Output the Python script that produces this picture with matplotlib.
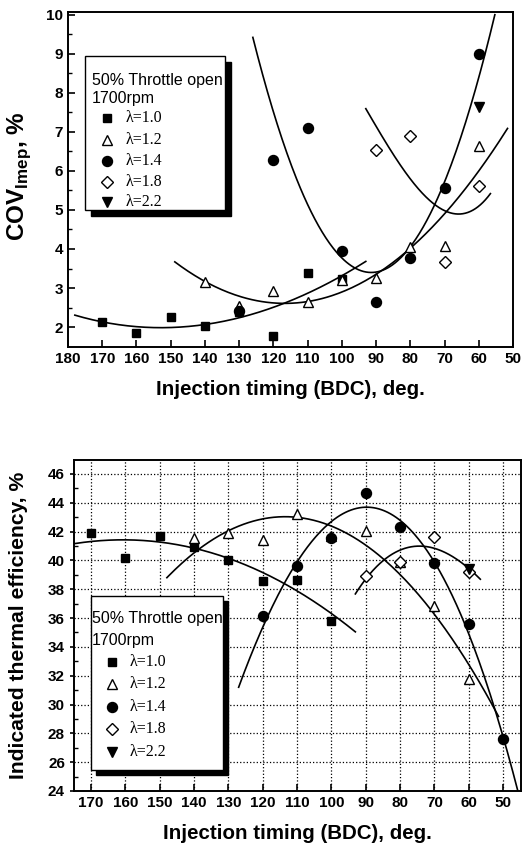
import numpy as np
import matplotlib
matplotlib.use("Agg")
import matplotlib.pyplot as plt
from matplotlib.patches import Rectangle

plt.rcParams['font.family'] = ['Liberation Sans', 'DejaVu Sans']
plt.rcParams['mathtext.fontset'] = 'custom'
plt.rcParams['mathtext.rm'] = 'Liberation Sans:bold'
plt.rcParams['mathtext.bf'] = 'Liberation Sans:bold'

# -------------------------------
# Data: COV of IMEP (top panel)
# -------------------------------
cov_x10 = [170, 160, 150, 140, 130, 120, 110, 100]
cov_y10 = [2.14, 1.86, 2.26, 2.03, 2.38, 1.77, 3.39, 3.22]
cov_x12 = [140, 130, 120, 110, 100, 90, 80, 70, 60]
cov_y12 = [3.16, 2.53, 2.93, 2.65, 3.20, 3.25, 4.04, 4.07, 6.64]
cov_x14 = [130, 120, 110, 100, 90, 80, 70, 60]
cov_y14 = [2.41, 6.28, 7.09, 3.96, 2.63, 3.78, 5.55, 8.99]
cov_x18 = [90, 80, 70, 60]
cov_y18 = [6.53, 6.89, 3.66, 5.62]
cov_x22 = [60]
cov_y22 = [7.64]

# trend curves, points
cov_fit10_x = [178.0, 170.7, 154.2, 140.6, 130.8, 120.1, 109.4, 100.6, 93.0]
cov_fit10_y = [2.31, 2.14, 1.99, 2.05, 2.22, 2.52, 2.90, 3.25, 3.70]
cov_fit12_x = [148.8, 140.6, 130.8, 119.1, 110.4, 100.6, 90.9, 81.1, 71.4, 61.7, 51.6]
cov_fit12_y = [3.67, 3.20, 2.82, 2.59, 2.65, 2.90, 3.33, 3.89, 4.74, 5.85, 7.07]
cov_fit14_x = [126.0, 118.2, 110.4, 100.6, 90.9, 81.1, 71.4, 61.7, 55.3]
cov_fit14_y = [9.42, 7.04, 5.17, 3.80, 3.46, 3.97, 5.34, 7.90, 10.0]
cov_fit18_x = [93.0, 84.0, 77.3, 67.5, 56.6]
cov_fit18_y = [7.58, 6.36, 5.42, 4.95, 5.41]

# -------------------------------
# Data: indicated thermal efficiency (bottom panel)
# -------------------------------
eff_x10 = [170, 160, 150, 140, 130, 120, 110, 100]
eff_y10 = [41.93, 40.19, 41.72, 40.96, 40.03, 38.60, 38.64, 35.80]
eff_x12 = [140, 130, 120, 110, 100, 90, 80, 70, 60]
eff_y12 = [41.54, 41.88, 41.42, 43.22, 41.70, 42.04, 39.90, 36.86, 31.75]
eff_x14 = [120, 110, 100, 90, 80, 70, 60, 50]
eff_y14 = [36.15, 39.64, 41.54, 44.66, 42.35, 39.85, 35.57, 27.61]
eff_x18 = [90, 80, 70, 60]
eff_y18 = [38.94, 39.87, 41.60, 39.22]
eff_x22 = [60]
eff_y22 = [39.38]

eff_fit10_x = [175.0, 160.0, 152.8, 139.7, 129.8, 119.8, 110.0, 99.8, 93.0]
eff_fit10_y = [41.14, 41.47, 41.35, 40.84, 40.08, 39.10, 37.95, 36.33, 35.00]
eff_fit12_x = [147.9, 139.7, 129.8, 119.8, 110.0, 99.8, 90.6, 84.8, 70.2, 60.0, 51.3]
eff_fit12_y = [38.76, 40.73, 42.00, 42.76, 42.99, 42.46, 41.30, 40.03, 36.33, 32.63, 29.28]
eff_fit14_x = [127.0, 121.7, 113.9, 110.0, 106.2, 99.8, 90.6, 79.9, 70.2, 60.0, 50.3, 45.5]
eff_fit14_y = [31.17, 34.48, 38.18, 39.91, 41.30, 42.81, 43.62, 42.58, 40.03, 35.17, 27.77, 23.95]
eff_fit18_x = [93.0, 84.8, 74.1, 65.3, 56.6]
eff_fit18_y = [37.67, 40.03, 40.96, 40.38, 38.69]

key_labels = ["λ=1.0", "λ=1.2", "λ=1.4", "λ=1.8", "λ=2.2"]
marker_styles = [
    dict(marker='s', ms=6.4, mfc='black'),
    dict(marker='^', ms=7.5, mfc='white'),
    dict(marker='o', ms=7.2, mfc='black'),
    dict(marker='D', ms=6.0, mfc='white'),
    dict(marker='v', ms=7.5, mfc='black'),
]


def smooth(xs, ys, deg=3):
    c = np.polyfit(xs, ys, deg)
    xx = np.linspace(min(xs), max(xs), 200)
    return xx, np.polyval(c, xx)


def draw_key(ax, box, shadow, head, rows):
    # box / shadow in axes fraction: (x0, y0, w, h)
    x0, y0, w, h = box
    dx, dy = shadow
    ax.add_patch(Rectangle((x0 + dx, y0 - dy), w, h, transform=ax.transAxes,
                           facecolor='black', edgecolor='black', zorder=8, clip_on=False))
    ax.add_patch(Rectangle((x0, y0), w, h, transform=ax.transAxes,
                           facecolor='white', edgecolor='black', lw=1.0, zorder=9, clip_on=False))
    for (tx, ty), s in zip(head, ["50% Throttle open", "1700rpm"]):
        ax.text(tx, ty, s, transform=ax.transAxes, fontsize=11.5, va='center',
                ha='left', zorder=10)
    mx, lx, ys = rows
    for yy, lab, st in zip(ys, key_labels, marker_styles):
        ax.plot([mx], [yy], transform=ax.transAxes, ls='none', mec='black',
                mew=1.0, zorder=10, clip_on=False, **st)
        ax.text(lx, yy, lab, transform=ax.transAxes, fontsize=11.5, va='center',
                ha='left', family=['Liberation Serif', 'DejaVu Serif'], zorder=10)


fig = plt.figure(figsize=(5.22, 8.52), dpi=100)

# -------------------------------
# Top panel
# -------------------------------
ax1 = fig.add_axes([68 / 522, 1 - 347 / 852, 445 / 522, 335 / 852])
for fx, fy in [(cov_fit10_x, cov_fit10_y), (cov_fit12_x, cov_fit12_y),
               (cov_fit14_x, cov_fit14_y), (cov_fit18_x, cov_fit18_y)]:
    xx, yy = smooth(fx, fy)
    ax1.plot(xx, yy, color='black', lw=1.2, zorder=3)
series1 = [(cov_x10, cov_y10), (cov_x12, cov_y12), (cov_x14, cov_y14),
           (cov_x18, cov_y18), (cov_x22, cov_y22)]
for (sx, sy), st in zip(series1, marker_styles):
    ax1.plot(sx, sy, ls='none', mec='black', mew=1.0, zorder=4, clip_on=False, **st)

ax1.set_xlim(180, 50)
ax1.set_ylim(1.49, 10.07)
ax1.set_xticks(np.arange(180, 49, -10))
ax1.set_yticks(np.arange(2, 11, 1))
ax1.set_yticks(np.arange(2.5, 10, 1), minor=True)
ax1.tick_params(axis='both', which='major', direction='in', length=5, width=1.2,
                labelsize=11, top=False, right=False)
ax1.tick_params(axis='y', which='minor', direction='in', length=3, width=1.0)
for lab in ax1.get_xticklabels() + ax1.get_yticklabels():
    lab.set_fontweight('bold')
for sp in ax1.spines.values():
    sp.set_linewidth(1.4)
ax1.set_xlabel("Injection timing (BDC), deg.", fontsize=14.8, fontweight='bold', labelpad=10)
ax1.set_ylabel(r"COV$_{\mathbf{Imep}}$, %", fontsize=17.5, fontweight='bold')
ax1.yaxis.set_label_coords(-0.078, 0.51)


def f1(px, py):
    return (px - 68) / 445, 1 - (py - 12) / 335


bx0, by1 = f1(85, 56)
bx1, by0 = f1(225, 210)
draw_key(ax1, (bx0, by0, bx1 - bx0, by1 - by0), (6 / 445, 6 / 335),
         [f1(92, 80), f1(92, 99)],
         (f1(107, 0)[0], f1(126, 0)[0], [f1(0, p)[1] for p in (118, 140, 161, 182, 202)]))

# -------------------------------
# Bottom panel
# -------------------------------
ax2 = fig.add_axes([74 / 522, 1 - 791 / 852, 447 / 522, 331 / 852])
for fx, fy in [(eff_fit10_x, eff_fit10_y), (eff_fit12_x, eff_fit12_y),
               (eff_fit14_x, eff_fit14_y), (eff_fit18_x, eff_fit18_y)]:
    xx, yy = smooth(fx, fy)
    ax2.plot(xx, yy, color='black', lw=1.2, zorder=3)
series2 = [(eff_x10, eff_y10), (eff_x12, eff_y12), (eff_x14, eff_y14),
           (eff_x18, eff_y18), (eff_x22, eff_y22)]
for (sx, sy), st in zip(series2, marker_styles):
    ax2.plot(sx, sy, ls='none', mec='black', mew=1.0, zorder=4, clip_on=False, **st)

ax2.set_xlim(174.96, 44.75)
ax2.set_ylim(24, 46.97)
ax2.set_xticks(np.arange(170, 49, -10))
ax2.set_yticks(np.arange(24, 47, 2))
ax2.set_yticks(np.arange(25, 47, 2), minor=True)
ax2.grid(True, which='major', ls=':', lw=0.9, color='black')
ax2.tick_params(axis='x', which='major', direction='in', length=5, width=1.2, labelsize=11)
ax2.tick_params(axis='y', which='major', direction='out', length=3, width=1.2, labelsize=11)
ax2.tick_params(axis='y', which='minor', direction='in', length=3, width=1.0)
for lab in ax2.get_xticklabels() + ax2.get_yticklabels():
    lab.set_fontweight('bold')
for sp in ax2.spines.values():
    sp.set_linewidth(1.4)
ax2.set_xlabel("Injection timing (BDC), deg.", fontsize=14.8, fontweight='bold', labelpad=10)
ax2.set_ylabel("Indicated thermal efficiency, %", fontsize=15.2, fontweight='bold')
ax2.yaxis.set_label_coords(-0.103, 0.5)


def f2(px, py):
    return (px - 74) / 447, 1 - (py - 460) / 331


bx0, by1 = f2(91, 596)
bx1, by0 = f2(223, 770)
draw_key(ax2, (bx0, by0, bx1 - bx0, by1 - by0), (5 / 447, 5 / 331),
         [f2(92, 619), f2(92, 641)],
         (f2(112, 0)[0], f2(130, 0)[0], [f2(0, p)[1] for p in (662, 684, 707, 729, 752)]))

fig.savefig("out.png", dpi=100)
